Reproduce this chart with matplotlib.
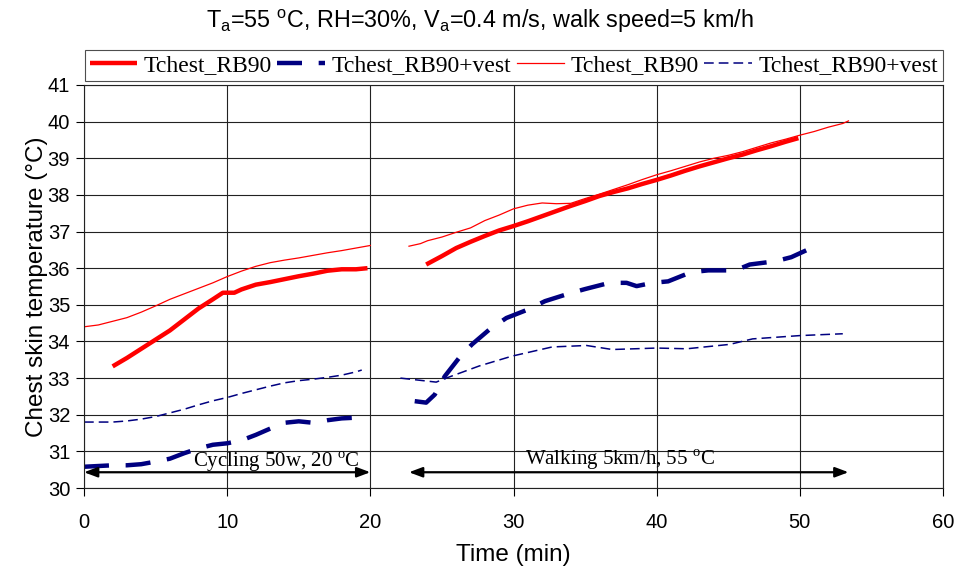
import matplotlib
matplotlib.use("Agg")
import matplotlib.pyplot as plt

# ---------------- data ----------------
# thick red: Tchest_RB90 (set 1)
red1_cyc_x = [2, 3, 4, 5, 6, 7, 8, 9, 9.7, 10.5, 11, 12, 13, 14, 15, 16, 17, 18, 19, 19.8]
red1_cyc_y = [33.32, 33.55, 33.8, 34.05, 34.3, 34.6, 34.9, 35.15, 35.33, 35.33, 35.42, 35.55,
              35.62, 35.7, 35.78, 35.85, 35.93, 35.97, 35.97, 36.0]
red1_walk_x = [23.9, 25, 26, 27, 28, 29, 30, 31, 32, 33, 34, 35, 36, 37, 38, 39, 40, 41, 42,
               43, 44, 45, 46, 47, 48, 49, 49.9]
red1_walk_y = [36.1, 36.33, 36.55, 36.72, 36.88, 37.03, 37.15, 37.28, 37.42, 37.56, 37.7, 37.83,
               37.97, 38.08, 38.18, 38.3, 38.41, 38.53, 38.66, 38.78, 38.89, 39.0, 39.1, 39.22,
               39.33, 39.45, 39.55]

# thick blue dashed: Tchest_RB90+vest (set 1)
blue1_cyc_x = [0, 1, 2, 3, 4, 5, 6, 7, 8, 9, 10, 11, 12, 13, 14, 15, 16, 17, 18, 19]
blue1_cyc_y = [30.58, 30.6, 30.62, 30.62, 30.65, 30.72, 30.8, 30.95, 31.08, 31.18, 31.22, 31.3,
               31.45, 31.62, 31.78, 31.82, 31.78, 31.85, 31.9, 31.92]
blue1_walk_x = [23.1, 23.9, 24.5, 25.2, 26.2, 27.1, 28.3, 29.5, 31, 32.2, 33.9, 35, 36.7, 37.9,
                38.6, 39.7, 40.8, 42.4, 43.6, 45.5, 46.5, 48.3, 49.4, 50.8]
blue1_walk_y = [32.37, 32.33, 32.55, 33.05, 33.55, 33.92, 34.32, 34.64, 34.87, 35.1, 35.31, 35.43,
                35.6, 35.6, 35.51, 35.6, 35.64, 35.89, 35.94, 35.94, 36.1, 36.19, 36.3, 36.55]

# thin red: Tchest_RB90 (set 2)
red2_cyc_x = [0, 1, 2, 3, 4, 5, 6, 7, 8, 9, 10, 11, 12, 13, 14, 15, 16, 17, 18, 19, 20]
red2_cyc_y = [34.4, 34.45, 34.55, 34.65, 34.8, 34.97, 35.15, 35.3, 35.45, 35.6, 35.77, 35.92,
              36.05, 36.15, 36.22, 36.28, 36.35, 36.42, 36.48, 36.55, 36.62]
red2_walk_x = [22.7, 23.5, 24, 25, 26, 27, 28, 29, 30, 31, 32, 33, 34, 35, 36, 37, 38, 39, 40,
               41, 42, 43, 44, 45, 46, 47, 48, 49, 50, 51, 52, 53, 53.4]
red2_walk_y = [36.6, 36.67, 36.75, 36.85, 36.98, 37.1, 37.3, 37.45, 37.62, 37.72, 37.78, 37.76,
               37.77, 37.9, 38.02, 38.15, 38.28, 38.42, 38.55, 38.66, 38.78, 38.9, 39.0, 39.08,
               39.18, 39.3, 39.42, 39.52, 39.63, 39.73, 39.85, 39.95, 40.02]

# thin blue dashed: Tchest_RB90+vest (set 2)
blue2_cyc_x = [0, 2, 3, 4, 5, 6, 7, 8, 9, 10, 11, 12, 13, 14, 15, 16, 17, 18, 19, 19.4]
blue2_cyc_y = [31.8, 31.8, 31.83, 31.88, 31.95, 32.05, 32.15, 32.27, 32.38, 32.47, 32.58, 32.68,
               32.78, 32.87, 32.93, 32.97, 33.02, 33.08, 33.17, 33.22]
blue2_walk_x = [22.1, 24.6, 25.3, 27.6, 29.9, 32.7, 35.1, 36.9, 40, 42.1, 45.1, 46.7, 50, 53]
blue2_walk_y = [33.0, 32.89, 33.0, 33.33, 33.6, 33.85, 33.89, 33.78, 33.82, 33.8, 33.92, 34.07,
                34.16, 34.21]

legend_labels = ["Tchest_RB90", "Tchest_RB90+vest", "Tchest_RB90", "Tchest_RB90+vest"]
x_ticks = [0, 10, 20, 30, 40, 50, 60]
y_ticks = [30, 31, 32, 33, 34, 35, 36, 37, 38, 39, 40, 41]

cycling_span = (0, 20)
walking_span = (22.7, 53.4)
arrow_y = 30.43

# ---------------- style ----------------
plt.rcParams['font.family'] = ['Liberation Sans', 'DejaVu Sans']
plt.rcParams['mathtext.fontset'] = 'custom'
plt.rcParams['mathtext.rm'] = 'Liberation Serif'
plt.rcParams['mathtext.sf'] = 'Liberation Sans'
plt.rcParams['lines.scale_dashes'] = False

RED = '#ff0000'
NAVY = '#000080'

fig = plt.figure(figsize=(9.59, 5.71), dpi=100)
ax = fig.add_axes([84 / 959, 1 - 488 / 571, (943 - 84) / 959, (488 - 85) / 571])

ax.plot(red1_cyc_x, red1_cyc_y, color=RED, lw=3.2, solid_capstyle='butt', label=legend_labels[0])
ax.plot(red1_walk_x, red1_walk_y, color=RED, lw=3.2, solid_capstyle='butt')

ax.plot(blue1_cyc_x, blue1_cyc_y, color=NAVY, lw=3.2, dashes=(18, 12),
        dash_capstyle='butt', label=legend_labels[1])
ax.plot(blue1_walk_x, blue1_walk_y, color=NAVY, lw=3.2, dashes=(18, 12), dash_capstyle='butt')

ax.plot(red2_cyc_x, red2_cyc_y, color=RED, lw=0.9, label=legend_labels[2])
ax.plot(red2_walk_x, red2_walk_y, color=RED, lw=0.9)

ax.plot(blue2_cyc_x, blue2_cyc_y, color=NAVY, lw=1.1, dashes=(7, 3.6), label=legend_labels[3])
ax.plot(blue2_walk_x, blue2_walk_y, color=NAVY, lw=1.1, dashes=(7, 3.6))

ax.set_xlim(0, 60)
ax.set_ylim(30, 41)
ax.set_xticks(x_ticks)
ax.set_yticks(y_ticks)
ax.grid(True, color='#222222', lw=0.8)
ax.set_axisbelow(True)
ax.tick_params(direction='out', length=6, width=0.8, labelsize=14.5, pad=4)
ax.tick_params(axis='x', pad=12)
for s in ax.spines.values():
    s.set_color('#222222')
    s.set_linewidth(0.8)

ax.set_xlabel("Time (min)", fontsize=17.5, labelpad=9)
ax.set_ylabel("Chest skin temperature (°C)", fontsize=17.5, labelpad=0)

fig.text(0.5, 1 - 21 / 571,
         r"T$_{\mathsf{a}}$=55 $^{\mathsf{o}}$C, RH=30%, V$_{\mathsf{a}}$=0.4 m/s, walk speed=5 km/h",
         ha='center', va='center', fontsize=16.8)

# arrows
for span in (cycling_span, walking_span):
    ax.annotate("", xy=(span[1], arrow_y), xytext=(span[0], arrow_y),
                arrowprops=dict(arrowstyle='<|-|>,head_length=0.8,head_width=0.3',
                                color='black', lw=1.6, shrinkA=0, shrinkB=0))

ax.text(13.4, arrow_y - 0.06, r"Cycling 50w, 20 $^{\mathrm{o}}$C", family='Liberation Serif',
        fontsize=15, ha='center', va='bottom')
ax.text(37.4, arrow_y + 0.02, r"Walking 5km/h, 55 $^{\mathrm{o}}$C", family='Liberation Serif',
        fontsize=15, ha='center', va='bottom')

handles, labels = ax.get_legend_handles_labels()
leg = fig.legend(handles, labels, loc='lower left', ncol=4, mode='expand',
                 bbox_to_anchor=(85 / 959, 1 - 81 / 571, (943 - 85) / 959, 34 / 571),
                 prop={'family': 'Liberation Serif', 'size': 17}, frameon=True, fancybox=False,
                 edgecolor='#222222', handlelength=2.0, handletextpad=0.3, columnspacing=0.5,
                 borderaxespad=0, borderpad=0.2)
leg.get_frame().set_linewidth(0.8)

fig.savefig("out.png", dpi=100)
